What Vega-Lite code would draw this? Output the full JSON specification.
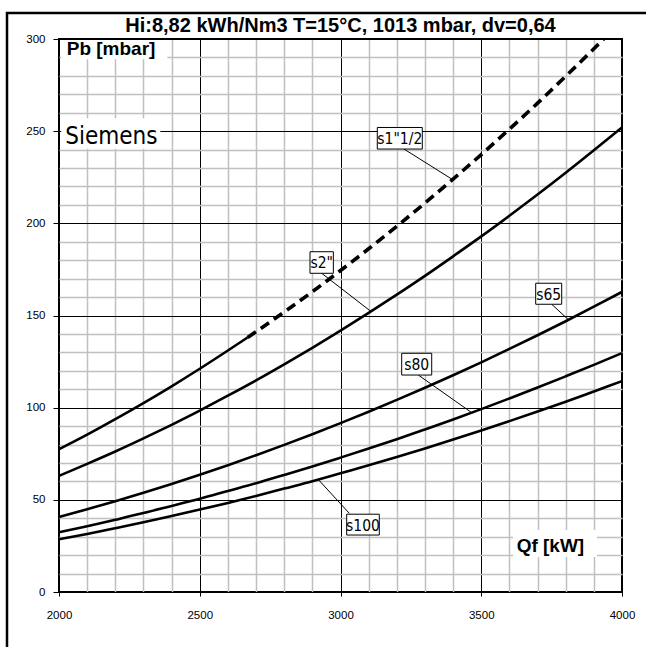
{
  "$schema": "https://vega.github.io/schema/vega-lite/v6.json",
  "width": 563,
  "height": 553,
  "autosize": {"type": "none"},
  "padding": {"left": 59, "top": 39, "right": 24, "bottom": 55},
  "background": "white",
  "title": {
    "text": "Hi:8,82 kWh/Nm3 T=15°C, 1013 mbar, dv=0,64",
    "font": "Liberation Sans",
    "fontSize": 20,
    "fontWeight": "bold",
    "color": "black",
    "anchor": "middle",
    "frame": "group",
    "baseline": "alphabetic",
    "offset": 10,
    "dy": 50
  },
  "config": {
    "font": "Liberation Sans",
    "view": {"stroke": "black", "strokeWidth": 2}
  },
  "resolve": {"axis": {"x": "independent", "y": "independent"}},
  "datasets": {
    "curves": [
      {"s": "s1\"1/2", "d": "solid", "Q": 2000, "P": 77.5},
      {"s": "s1\"1/2", "d": "solid", "Q": 2100, "P": 85.4},
      {"s": "s1\"1/2", "d": "solid", "Q": 2200, "P": 93.8},
      {"s": "s1\"1/2", "d": "solid", "Q": 2300, "P": 102.5},
      {"s": "s1\"1/2", "d": "solid", "Q": 2400, "P": 111.6},
      {"s": "s1\"1/2", "d": "solid", "Q": 2500, "P": 121.1},
      {"s": "s1\"1/2", "d": "solid", "Q": 2600, "P": 131.0},
      {"s": "s1\"1/2", "d": "solid", "Q": 2670, "P": 138.1},
      {"s": "s1\"1/2", "d": "dashed", "Q": 2670, "P": 138.1},
      {"s": "s1\"1/2", "d": "dashed", "Q": 2700, "P": 141.2},
      {"s": "s1\"1/2", "d": "dashed", "Q": 2800, "P": 151.9},
      {"s": "s1\"1/2", "d": "dashed", "Q": 2900, "P": 162.9},
      {"s": "s1\"1/2", "d": "dashed", "Q": 3000, "P": 174.4},
      {"s": "s1\"1/2", "d": "dashed", "Q": 3100, "P": 186.2},
      {"s": "s1\"1/2", "d": "dashed", "Q": 3200, "P": 198.4},
      {"s": "s1\"1/2", "d": "dashed", "Q": 3300, "P": 211.0},
      {"s": "s1\"1/2", "d": "dashed", "Q": 3400, "P": 224.0},
      {"s": "s1\"1/2", "d": "dashed", "Q": 3500, "P": 237.3},
      {"s": "s1\"1/2", "d": "dashed", "Q": 3600, "P": 251.1},
      {"s": "s1\"1/2", "d": "dashed", "Q": 3700, "P": 265.2},
      {"s": "s1\"1/2", "d": "dashed", "Q": 3800, "P": 279.8},
      {"s": "s1\"1/2", "d": "dashed", "Q": 3900, "P": 294.7},
      {"s": "s1\"1/2", "d": "dashed", "Q": 3935, "P": 300.0},
      {"s": "s2\"", "d": "solid", "Q": 2000, "P": 63.0},
      {"s": "s2\"", "d": "solid", "Q": 2100, "P": 69.5},
      {"s": "s2\"", "d": "solid", "Q": 2200, "P": 76.2},
      {"s": "s2\"", "d": "solid", "Q": 2300, "P": 83.3},
      {"s": "s2\"", "d": "solid", "Q": 2400, "P": 90.7},
      {"s": "s2\"", "d": "solid", "Q": 2500, "P": 98.4},
      {"s": "s2\"", "d": "solid", "Q": 2600, "P": 106.5},
      {"s": "s2\"", "d": "solid", "Q": 2700, "P": 114.8},
      {"s": "s2\"", "d": "solid", "Q": 2800, "P": 123.5},
      {"s": "s2\"", "d": "solid", "Q": 2900, "P": 132.5},
      {"s": "s2\"", "d": "solid", "Q": 3000, "P": 141.8},
      {"s": "s2\"", "d": "solid", "Q": 3100, "P": 151.4},
      {"s": "s2\"", "d": "solid", "Q": 3200, "P": 161.3},
      {"s": "s2\"", "d": "solid", "Q": 3300, "P": 171.5},
      {"s": "s2\"", "d": "solid", "Q": 3400, "P": 182.1},
      {"s": "s2\"", "d": "solid", "Q": 3500, "P": 192.9},
      {"s": "s2\"", "d": "solid", "Q": 3600, "P": 204.1},
      {"s": "s2\"", "d": "solid", "Q": 3700, "P": 215.6},
      {"s": "s2\"", "d": "solid", "Q": 3800, "P": 227.4},
      {"s": "s2\"", "d": "solid", "Q": 3900, "P": 239.6},
      {"s": "s2\"", "d": "solid", "Q": 4000, "P": 252.0},
      {"s": "s65", "d": "solid", "Q": 2000, "P": 40.7},
      {"s": "s65", "d": "solid", "Q": 2100, "P": 44.9},
      {"s": "s65", "d": "solid", "Q": 2200, "P": 49.2},
      {"s": "s65", "d": "solid", "Q": 2300, "P": 53.8},
      {"s": "s65", "d": "solid", "Q": 2400, "P": 58.6},
      {"s": "s65", "d": "solid", "Q": 2500, "P": 63.6},
      {"s": "s65", "d": "solid", "Q": 2600, "P": 68.8},
      {"s": "s65", "d": "solid", "Q": 2700, "P": 74.2},
      {"s": "s65", "d": "solid", "Q": 2800, "P": 79.8},
      {"s": "s65", "d": "solid", "Q": 2900, "P": 85.6},
      {"s": "s65", "d": "solid", "Q": 3000, "P": 91.6},
      {"s": "s65", "d": "solid", "Q": 3100, "P": 97.8},
      {"s": "s65", "d": "solid", "Q": 3200, "P": 104.2},
      {"s": "s65", "d": "solid", "Q": 3300, "P": 110.8},
      {"s": "s65", "d": "solid", "Q": 3400, "P": 117.6},
      {"s": "s65", "d": "solid", "Q": 3500, "P": 124.6},
      {"s": "s65", "d": "solid", "Q": 3600, "P": 131.9},
      {"s": "s65", "d": "solid", "Q": 3700, "P": 139.3},
      {"s": "s65", "d": "solid", "Q": 3800, "P": 146.9},
      {"s": "s65", "d": "solid", "Q": 3900, "P": 154.8},
      {"s": "s65", "d": "solid", "Q": 4000, "P": 162.8},
      {"s": "s80", "d": "solid", "Q": 2000, "P": 32.4},
      {"s": "s80", "d": "solid", "Q": 2100, "P": 35.7},
      {"s": "s80", "d": "solid", "Q": 2200, "P": 39.2},
      {"s": "s80", "d": "solid", "Q": 2300, "P": 42.8},
      {"s": "s80", "d": "solid", "Q": 2400, "P": 46.7},
      {"s": "s80", "d": "solid", "Q": 2500, "P": 50.6},
      {"s": "s80", "d": "solid", "Q": 2600, "P": 54.8},
      {"s": "s80", "d": "solid", "Q": 2700, "P": 59.0},
      {"s": "s80", "d": "solid", "Q": 2800, "P": 63.5},
      {"s": "s80", "d": "solid", "Q": 2900, "P": 68.1},
      {"s": "s80", "d": "solid", "Q": 3000, "P": 72.9},
      {"s": "s80", "d": "solid", "Q": 3100, "P": 77.8},
      {"s": "s80", "d": "solid", "Q": 3200, "P": 82.9},
      {"s": "s80", "d": "solid", "Q": 3300, "P": 88.2},
      {"s": "s80", "d": "solid", "Q": 3400, "P": 93.6},
      {"s": "s80", "d": "solid", "Q": 3500, "P": 99.2},
      {"s": "s80", "d": "solid", "Q": 3600, "P": 105.0},
      {"s": "s80", "d": "solid", "Q": 3700, "P": 110.9},
      {"s": "s80", "d": "solid", "Q": 3800, "P": 117.0},
      {"s": "s80", "d": "solid", "Q": 3900, "P": 123.2},
      {"s": "s80", "d": "solid", "Q": 4000, "P": 129.6},
      {"s": "s100", "d": "solid", "Q": 2000, "P": 28.6},
      {"s": "s100", "d": "solid", "Q": 2100, "P": 31.5},
      {"s": "s100", "d": "solid", "Q": 2200, "P": 34.6},
      {"s": "s100", "d": "solid", "Q": 2300, "P": 37.8},
      {"s": "s100", "d": "solid", "Q": 2400, "P": 41.2},
      {"s": "s100", "d": "solid", "Q": 2500, "P": 44.7},
      {"s": "s100", "d": "solid", "Q": 2600, "P": 48.3},
      {"s": "s100", "d": "solid", "Q": 2700, "P": 52.1},
      {"s": "s100", "d": "solid", "Q": 2800, "P": 56.1},
      {"s": "s100", "d": "solid", "Q": 2900, "P": 60.1},
      {"s": "s100", "d": "solid", "Q": 3000, "P": 64.4},
      {"s": "s100", "d": "solid", "Q": 3100, "P": 68.7},
      {"s": "s100", "d": "solid", "Q": 3200, "P": 73.2},
      {"s": "s100", "d": "solid", "Q": 3300, "P": 77.9},
      {"s": "s100", "d": "solid", "Q": 3400, "P": 82.7},
      {"s": "s100", "d": "solid", "Q": 3500, "P": 87.6},
      {"s": "s100", "d": "solid", "Q": 3600, "P": 92.7},
      {"s": "s100", "d": "solid", "Q": 3700, "P": 97.9},
      {"s": "s100", "d": "solid", "Q": 3800, "P": 103.2},
      {"s": "s100", "d": "solid", "Q": 3900, "P": 108.8},
      {"s": "s100", "d": "solid", "Q": 4000, "P": 114.4}
    ],
    "tags": [
      {"t": "s1\"1/2", "Q": 3210.7, "P": 246.2, "Q1": 3130.7, "Q2": 3290.6, "P1": 252.0, "P2": 240.3, "LQ1": 3225.6, "LQ2": 3400.7, "LP1": 240.3, "LP2": 223.5},
      {"t": "s2\"", "Q": 2933.2, "P": 178.8, "Q1": 2891.7, "Q2": 2974.6, "P1": 184.6, "P2": 172.9, "LQ1": 2933.2, "LQ2": 3107.3, "LP1": 172.9, "LP2": 152.3},
      {"t": "s65", "Q": 3739.6, "P": 161.8, "Q1": 3693.4, "Q2": 3785.8, "P1": 167.5, "P2": 156.1, "LQ1": 3750.2, "LQ2": 3809.2, "LP1": 156.1, "LP2": 147.8},
      {"t": "s80", "Q": 3270.7, "P": 123.6, "Q1": 3217.4, "Q2": 3324.0, "P1": 129.5, "P2": 117.7, "LQ1": 3276.4, "LQ2": 3466.1, "LP1": 117.7, "LP2": 97.3},
      {"t": "s100", "Q": 3080.0, "P": 36.5, "Q1": 3022.0, "Q2": 3137.8, "P1": 42.2, "P2": 30.9, "LQ1": 3031.3, "LQ2": 2921.1, "LP1": 42.7, "LP2": 61.0}
    ],
    "bg": [
      {"Q1": 2008, "Q2": 2385, "P1": 299.5, "P2": 289.0},
      {"Q1": 2008, "Q2": 2360, "P1": 257.0, "P2": 240.5},
      {"Q1": 3612.8, "Q2": 3911.2, "P1": 33.6, "P2": 19.0}
    ],
    "frame": [
      {"Q1": 1815.3, "Q2": 4300, "P1": 314.1, "P2": -45}
    ],
    "notes": [
      {"t": "Pb [mbar]", "k": "bold", "Q": 2027.4, "P": 291.3},
      {"t": "Qf [kW]", "k": "bold", "Q": 3625.8, "P": 21.9},
      {"t": "Siemens", "k": "plain", "Q": 2022, "P": 243.3}
    ]
  },
  "layer": [
    {
      "data": {"name": "bg"},
      "mark": {"type": "rect", "fill": "white", "stroke": null},
      "encoding": {
        "x": {
          "field": "Q1", "type": "quantitative",
          "scale": {"domain": [2000, 4000], "nice": false, "zero": false},
          "axis": {
            "title": null,
            "orient": "bottom",
            "values": [2000,2100,2200,2300,2400,2500,2600,2700,2800,2900,3000,3100,3200,3300,3400,3500,3600,3700,3800,3900,4000],
            "format": "d",
            "labelExpr": "datum.value % 500 === 0 ? datum.label : ''",
            "labelFlush": false,
            "labelOverlap": false,
            "labelFont": "Liberation Sans",
            "labelFontSize": 11.5,
            "labelColor": "black",
            "labelPadding": 13,
            "domain": false,
            "tickSize": 4,
            "tickColor": "black",
            "tickOpacity": {"condition": {"test": "datum.value % 500 === 0", "value": 1}, "value": 0},
            "grid": true,
            "gridColor": {"condition": {"test": "datum.value % 500 === 0", "value": "black"}, "value": "#c0c0c0"},
            "gridWidth": {"condition": {"test": "datum.value % 500 === 0", "value": 1}, "value": 1.5},
            "gridOpacity": 1
          }
        },
        "x2": {"field": "Q2"},
        "y": {
          "field": "P1", "type": "quantitative",
          "scale": {"domain": [0, 300], "nice": false},
          "axis": {
            "title": null,
            "orient": "left",
            "values": [0,10,20,30,40,50,60,70,80,90,100,110,120,130,140,150,160,170,180,190,200,210,220,230,240,250,260,270,280,290,300],
            "format": "d",
            "labelExpr": "datum.value % 50 === 0 ? datum.label : ''",
            "labelOverlap": false,
            "labelFont": "Liberation Sans",
            "labelFontSize": 11.5,
            "labelColor": "black",
            "labelPadding": 8,
            "domain": false,
            "tickSize": 6,
            "tickColor": "black",
            "tickOpacity": {"condition": {"test": "datum.value % 50 === 0", "value": 1}, "value": 0},
            "grid": true,
            "gridColor": {"condition": {"test": "datum.value % 50 === 0", "value": "black"}, "value": "#c0c0c0"},
            "gridWidth": {"condition": {"test": "datum.value % 50 === 0", "value": 1}, "value": 1.5},
            "gridOpacity": 1
          }
        },
        "y2": {"field": "P2"}
      }
    },
    {
      "data": {"name": "frame"},
      "mark": {"type": "rect", "fill": null, "stroke": "black", "strokeWidth": 2.5, "clip": false},
      "encoding": {
        "x": {"field": "Q1", "type": "quantitative", "axis": null},
        "x2": {"field": "Q2"},
        "y": {"field": "P1", "type": "quantitative", "axis": null},
        "y2": {"field": "P2"}
      }
    },
    {
      "data": {"name": "curves"},
      "transform": [{"filter": "datum.d === 'solid'"}],
      "mark": {"type": "line", "color": "black", "interpolate": "monotone"},
      "encoding": {
        "x": {"field": "Q", "type": "quantitative", "axis": null},
        "y": {"field": "P", "type": "quantitative", "axis": null},
        "detail": {"field": "s"},
        "strokeWidth": {"field": "s", "type": "nominal", "scale": {"domain": ["s1\"1/2", "s2\"", "s65", "s80", "s100"], "range": [2.6, 2.6, 2.6, 2.6, 3.3]}, "legend": null}
      }
    },
    {
      "data": {"name": "curves"},
      "transform": [{"filter": "datum.d === 'dashed'"}],
      "mark": {"type": "line", "color": "black", "strokeWidth": 3.6, "strokeDash": [10, 6], "interpolate": "monotone"},
      "encoding": {
        "x": {"field": "Q", "type": "quantitative", "axis": null},
        "y": {"field": "P", "type": "quantitative", "axis": null},
        "detail": {"field": "s"}
      }
    },
    {
      "data": {"name": "tags"},
      "mark": {"type": "rule", "color": "black", "strokeWidth": 1},
      "encoding": {
        "x": {"field": "LQ1", "type": "quantitative", "axis": null},
        "x2": {"field": "LQ2"},
        "y": {"field": "LP1", "type": "quantitative", "axis": null},
        "y2": {"field": "LP2"}
      }
    },
    {
      "data": {"name": "tags"},
      "mark": {"type": "rect", "fill": "white", "stroke": "black", "strokeWidth": 1},
      "encoding": {
        "x": {"field": "Q1", "type": "quantitative", "axis": null},
        "x2": {"field": "Q2"},
        "y": {"field": "P1", "type": "quantitative", "axis": null},
        "y2": {"field": "P2"}
      }
    },
    {
      "data": {"name": "tags"},
      "mark": {"type": "text", "font": "Liberation Sans Narrow, Arial Narrow, DejaVu Sans Condensed, sans-serif", "fontSize": 15.5, "color": "black", "align": "center", "baseline": "middle", "dy": 1},
      "encoding": {
        "x": {"field": "Q", "type": "quantitative", "axis": null},
        "y": {"field": "P", "type": "quantitative", "axis": null},
        "text": {"field": "t"}
      }
    },
    {
      "data": {"name": "notes"},
      "transform": [{"filter": "datum.k === 'bold'"}],
      "mark": {"type": "text", "font": "Liberation Sans", "fontSize": 19, "fontWeight": "bold", "color": "black", "align": "left", "baseline": "alphabetic"},
      "encoding": {
        "x": {"field": "Q", "type": "quantitative", "axis": null},
        "y": {"field": "P", "type": "quantitative", "axis": null},
        "text": {"field": "t"}
      }
    },
    {
      "data": {"name": "notes"},
      "transform": [{"filter": "datum.k === 'plain'"}],
      "mark": {"type": "text", "font": "Liberation Sans Narrow, Arial Narrow, DejaVu Sans Condensed, sans-serif", "fontSize": 24, "color": "black", "align": "left", "baseline": "alphabetic"},
      "encoding": {
        "x": {"field": "Q", "type": "quantitative", "axis": null},
        "y": {"field": "P", "type": "quantitative", "axis": null},
        "text": {"field": "t"}
      }
    }
  ]
}
